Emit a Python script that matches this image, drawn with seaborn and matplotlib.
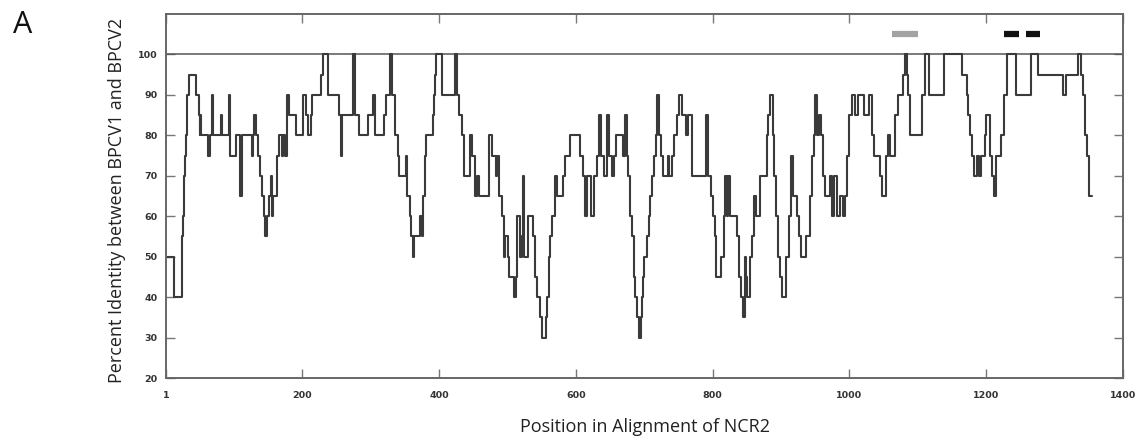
import matplotlib
matplotlib.use("Agg")
import matplotlib.pyplot as plt
import pandas as pd
import seaborn as sns

# ---- data: step changes of percent identity along the NCR2 alignment ----
positions = [
    1, 13, 24, 25, 26, 27, 28, 29, 30, 31, 32, 34, 45, 49, 50, 51, 52, 62, 65, 68,
    70, 81, 83, 93, 95, 104, 109, 112, 126, 128, 130, 132, 135, 138, 141, 144, 146, 149, 152, 154,
    156, 158, 163, 166, 170, 172, 175, 178, 181, 191, 202, 206, 209, 213, 215, 227, 230, 238, 254, 257,
    258, 275, 278, 283, 297, 303, 306, 319, 323, 329, 332, 336, 340, 342, 352, 354, 357, 359, 362, 364,
    372, 375, 377, 379, 381, 391, 393, 394, 396, 405, 424, 427, 430, 433, 437, 445, 448, 452, 455, 459,
    473, 478, 483, 485, 488, 492, 495, 497, 501, 503, 509, 512, 514, 518, 521, 523, 525, 530, 537, 541,
    543, 548, 550, 556, 558, 561, 563, 566, 569, 572, 581, 585, 591, 606, 611, 614, 617, 622, 626, 631,
    634, 637, 641, 645, 649, 653, 656, 659, 669, 672, 675, 677, 679, 682, 685, 687, 690, 692, 695, 697,
    699, 700, 704, 707, 709, 711, 714, 717, 719, 721, 725, 728, 735, 736, 741, 744, 748, 751, 756, 761,
    764, 770, 791, 794, 798, 800, 803, 805, 813, 816, 818, 821, 823, 826, 836, 838, 842, 844, 847, 849,
    851, 855, 858, 861, 864, 870, 879, 881, 884, 889, 890, 893, 895, 899, 901, 908, 912, 915, 918, 923,
    926, 929, 937, 942, 945, 948, 950, 953, 955, 958, 961, 964, 972, 975, 978, 982, 986, 990, 994, 997,
    1000, 1004, 1008, 1012, 1021, 1029, 1033, 1036, 1045, 1048, 1053, 1056, 1060, 1066, 1067, 1071, 1078, 1081, 1084, 1086,
    1089, 1106, 1110, 1116, 1117, 1138, 1165, 1172, 1174, 1176, 1179, 1182, 1186, 1189, 1192, 1198, 1200, 1206, 1209, 1211,
    1215, 1222, 1226, 1230, 1243, 1265, 1276, 1313, 1317, 1334, 1338, 1341, 1344, 1348, 1351, 1355,
]
identity = [
    50, 40, 45, 55, 60, 65, 70, 75, 80, 85, 90, 95, 90, 85, 80, 85, 80, 75, 80, 90,
    80, 85, 80, 90, 75, 80, 65, 80, 75, 80, 85, 80, 75, 70, 65, 60, 55, 60, 65, 70,
    60, 65, 75, 80, 75, 80, 75, 90, 85, 80, 90, 85, 80, 85, 90, 95, 100, 90, 85, 75,
    85, 100, 85, 80, 85, 90, 80, 85, 90, 100, 90, 80, 75, 70, 75, 65, 60, 55, 50, 55,
    60, 55, 65, 75, 80, 85, 90, 95, 100, 90, 100, 90, 85, 80, 70, 80, 75, 65, 70, 65,
    80, 75, 70, 75, 65, 60, 50, 55, 50, 45, 40, 45, 60, 50, 55, 70, 50, 60, 55, 45,
    40, 35, 30, 35, 40, 50, 55, 60, 70, 65, 70, 75, 80, 75, 70, 60, 70, 60, 70, 75,
    85, 75, 70, 85, 75, 70, 75, 80, 75, 85, 75, 70, 60, 55, 45, 40, 35, 30, 35, 40,
    45, 50, 55, 60, 65, 70, 75, 80, 90, 80, 75, 70, 75, 70, 75, 80, 85, 90, 85, 80,
    85, 70, 85, 70, 65, 60, 55, 45, 50, 60, 70, 60, 70, 60, 55, 45, 40, 35, 50, 45,
    40, 50, 55, 65, 60, 70, 80, 85, 90, 80, 70, 60, 50, 45, 40, 50, 60, 75, 65, 60,
    55, 50, 55, 65, 75, 80, 90, 80, 85, 80, 70, 65, 70, 60, 70, 60, 65, 60, 65, 75,
    85, 90, 85, 90, 85, 90, 80, 75, 70, 65, 75, 80, 75, 80, 85, 90, 95, 100, 95, 90,
    80, 90, 100, 95, 90, 100, 95, 90, 85, 80, 75, 70, 75, 70, 75, 80, 85, 75, 70, 65,
    75, 80, 90, 100, 90, 100, 95, 90, 95, 100, 95, 90, 80, 75, 65, 65,
]

x_ticks = [1, 200, 400, 600, 800, 1000, 1200, 1400]
y_ticks = [20, 30, 40, 50, 60, 70, 80, 90, 100]
ref_level = 100

# annotation bars above the 100% line
bar_starts = [1063, 1226, 1258]
bar_ends = [1101, 1248, 1278]
bar_colors = ["#a3a3a3", "#111111", "#111111"]
bar_level = 105

sns.set_style("ticks")
plt.rcParams["font.family"] = ["Open Sans", "DejaVu Sans"]

fig = plt.figure(figsize=(11.43, 4.42), dpi=100)
ax = fig.add_axes([166 / 1143, 1 - 378 / 442, (1123 - 166) / 1143, (378 - 14) / 442])

df = pd.DataFrame({"pos": positions, "pid": identity})
sns.lineplot(data=df, x="pos", y="pid", drawstyle="steps-post", estimator=None,
             color="#3a3a3a", linewidth=1.5, ax=ax)

ax.axhline(ref_level, color="#555555", linewidth=1.1, zorder=1)
ax.hlines([bar_level] * len(bar_starts), bar_starts, bar_ends, colors=bar_colors,
          linewidth=4.5)

ax.set_xlim(1, 1400)
ax.set_ylim(20, 110)
ax.set_xticks(x_ticks)
ax.set_yticks(y_ticks)
ax.set_xticklabels([str(t) for t in x_ticks])
ax.set_yticklabels([str(t) for t in y_ticks])

ax.tick_params(direction="in", top=True, right=True, length=6.5, width=1.0,
               color="#777777")
ax.tick_params(axis="x", pad=9)
ax.tick_params(axis="y", pad=6)
for lab in ax.get_xticklabels() + ax.get_yticklabels():
    lab.set_fontfamily("DejaVu Sans")
    lab.set_fontweight("bold")
    lab.set_fontsize(6.8)
    lab.set_color("#333333")

for sp in ax.spines.values():
    sp.set_color("#666666")
    sp.set_linewidth(1.4)

ax.set_xlabel("Position in Alignment of NCR2", fontsize=13, color="#222222",
              va="center", ha="center")
ax.set_ylabel("Percent Identity between BPCV1 and BPCV2", fontsize=13, color="#222222",
              va="center", ha="center")
ax.xaxis.set_label_coords(0.5, -0.135)
ax.yaxis.set_label_coords(-0.051, 0.489)

fig.text(23 / 1143, 1 - 25 / 442, "A", fontsize=22, ha="center", va="center", color="#111111")

fig.savefig("out.png", dpi=100)
